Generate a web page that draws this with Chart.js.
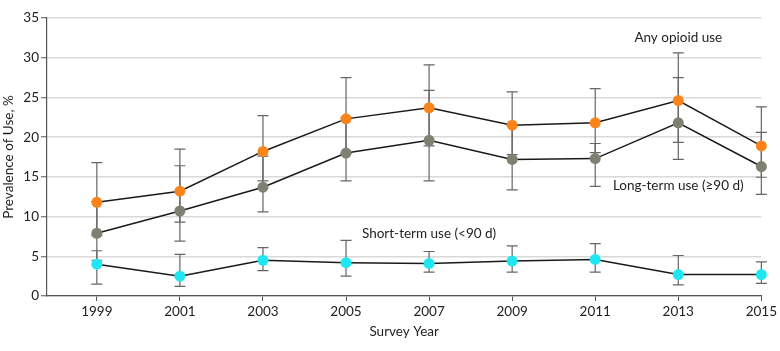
<!DOCTYPE html>
<html>
<head>
<meta charset="utf-8">
<script src="https://cdn.jsdelivr.net/npm/chart.js@4.4.1/dist/chart.umd.min.js"></script>
<style>
  html, body { margin: 0; padding: 0; background: #fff; }
  #wrap { width: 780px; height: 351px; position: relative; }
</style>
</head>
<body>
<div id="wrap"><canvas id="opioidChart"></canvas></div>
<script>
const years = [1999, 2001, 2003, 2005, 2007, 2009, 2011, 2013, 2015];
const yTicks = [0, 5, 10, 15, 20, 25, 30, 35];

const anyUse = [11.8, 13.2, 18.2, 22.3, 23.7, 21.5, 21.8, 24.6, 18.9];
const anyLow = [7.6, 9.3, 14.5, 18.0, 18.9, 17.8, 18.05, 19.35, 14.95];
const anyHigh = [16.8, 18.5, 22.7, 27.5, 29.1, 25.7, 26.1, 30.6, 23.8];

const longTerm = [7.9, 10.7, 13.7, 18.0, 19.6, 17.2, 17.3, 21.8, 16.3];
const longLow = [4.5, 6.9, 10.6, 14.5, 14.5, 13.35, 13.8, 17.2, 12.8];
const longHigh = [11.9, 16.4, 17.6, 22.4, 25.9, 21.5, 19.2, 27.5, 20.6];

const shortTerm = [4.0, 2.5, 4.5, 4.2, 4.1, 4.4, 4.6, 2.7, 2.7];
const shortLow = [1.5, 1.2, 3.2, 2.5, 3.0, 3.0, 3.0, 1.4, 1.6];
const shortHigh = [5.7, 5.25, 6.1, 7.0, 5.6, 6.3, 6.6, 5.1, 4.3];

const FONT = 'Lato, "Open Sans", sans-serif';
const FSIZE = 13.5;
const TEXT = '#222222';

function pts(vals) {
    return vals.map((v, i) => ({ x: years[i], y: v }));
}

// CI whiskers drawn under the markers
const errorBars = {
    id: 'errorBars',
    beforeDatasetsDraw(chart) {
        const { ctx, scales: { x, y } } = chart;
        const sets = [[anyLow, anyHigh], [longLow, longHigh], [shortLow, shortHigh]];
        ctx.save();
        ctx.strokeStyle = '#666666';
        ctx.lineWidth = 1.2;
        sets.forEach(([lo, hi]) => {
            years.forEach((yr, i) => {
                const px = x.getPixelForValue(yr);
                const pLo = y.getPixelForValue(lo[i]);
                const pHi = y.getPixelForValue(hi[i]);
                ctx.beginPath();
                ctx.moveTo(px, pLo); ctx.lineTo(px, pHi);
                ctx.moveTo(px - 5.5, pLo); ctx.lineTo(px + 5.5, pLo);
                ctx.moveTo(px - 5.5, pHi); ctx.lineTo(px + 5.5, pHi);
                ctx.stroke();
            });
        });
        ctx.restore();
    }
};

const seriesLabels = {
    id: 'seriesLabels',
    afterDatasetsDraw(chart) {
        const { ctx, scales: { x, y } } = chart;
        ctx.save();
        ctx.font = FSIZE + 'px ' + FONT;
        ctx.fillStyle = TEXT;
        ctx.textAlign = 'center';
        ctx.textBaseline = 'middle';
        ctx.fillText('Any opioid use', x.getPixelForValue(2013), y.getPixelForValue(32.5));
        ctx.fillText('Long-term use (\u226590 d)', x.getPixelForValue(2013), y.getPixelForValue(13.85));
        ctx.fillText('Short-term use (<90 d)', x.getPixelForValue(2007), y.getPixelForValue(7.8));
        ctx.restore();
    }
};

function lineSet(label, vals, color) {
    return {
        label: label,
        data: pts(vals),
        borderColor: '#1a1a1a',
        borderWidth: 1.5,
        pointRadius: 5.5,
        pointHoverRadius: 5.5,
        pointBorderWidth: 0,
        pointBackgroundColor: color,
        fill: false,
        tension: 0,
        clip: false
    };
}

new Chart(document.getElementById('opioidChart').getContext('2d'), {
    type: 'line',
    data: {
        datasets: [
            lineSet('Short-term use (<90 d)', shortTerm, '#1fe6f0'),
            lineSet('Long-term use (\u226590 d)', longTerm, '#7e8070'),
            lineSet('Any opioid use', anyUse, '#f8841a')
        ]
    },
    options: {
        responsive: true,
        maintainAspectRatio: false,
        animation: false,
        events: [],
        layout: { padding: { top: 18, right: 18, left: 0, bottom: 0 } },
        plugins: { legend: { display: false }, tooltip: { enabled: false } },
        scales: {
            x: {
                type: 'linear',
                min: 1997.8,
                max: 2015,
                afterBuildTicks: (scale) => { scale.ticks = years.map(v => ({ value: v })); },
                afterFit: (scale) => { scale.height = 55; },
                grid: { drawOnChartArea: false, tickLength: 5, tickColor: '#555', tickWidth: 1 },
                border: { color: '#555', width: 1.2 },
                ticks: {
                    color: TEXT, font: { family: FONT, size: FSIZE }, padding: 3,
                    maxRotation: 0, autoSkip: false,
                    callback: (v) => String(v)
                },
                title: {
                    display: true, text: 'Survey Year', color: TEXT,
                    font: { family: FONT, size: FSIZE }, padding: { top: 4, bottom: 11 }
                }
            },
            y: {
                min: 0,
                max: 35,
                afterBuildTicks: (scale) => { scale.ticks = yTicks.map(v => ({ value: v })); },
                afterFit: (scale) => { scale.width = 47; },
                grid: { color: '#d9d9d9', lineWidth: 1.5, tickLength: 6, tickColor: '#555', tickWidth: 1 },
                border: { color: '#555', width: 1.2 },
                ticks: { color: TEXT, font: { family: FONT, size: FSIZE }, padding: 2 },
                title: {
                    display: true, text: 'Prevalence of Use, %', color: TEXT,
                    font: { family: FONT, size: FSIZE }, padding: { top: 1, bottom: 0 }
                }
            }
        }
    },
    plugins: [errorBars, seriesLabels]
});
</script>
</body>
</html>
